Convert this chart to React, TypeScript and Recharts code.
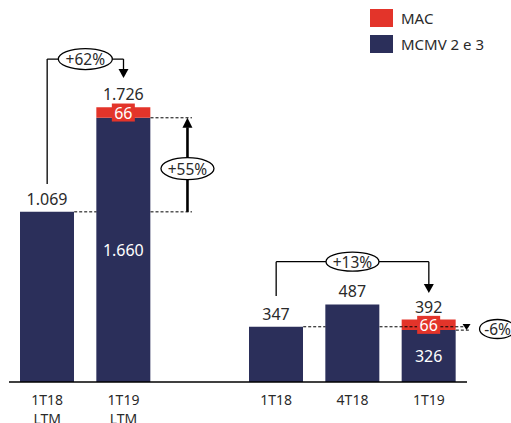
import { Bar, BarChart, LabelList, ReferenceDot, ReferenceLine, XAxis, YAxis } from 'recharts';

// Unidades vendidas por período (MCMV 2 e 3 + MAC)
const periods = ['1T18\nLTM', '1T19\nLTM', '1T18', '4T18', '1T19'];
const slots = [0, 1, 3, 4, 5];
const mcmv = [1069, 1660, 347, 487, 326];
const mac = [0, 66, 0, 0, 66];

const NAVY = '#2b2f5a';
const RED = '#e3342a';
const FONT = '"Noto Sans", sans-serif';
const TEXT = '#2a2a2a';

const data = slots.map((slot, i) => ({
  slot,
  mcmv: mcmv[i],
  mac: mac[i],
}));

const fmt = (v: number) => String(v).replace(/\B(?=(\d{3})+(?!\d))/g, '.');

// total acima da pilha, posicionado a partir da barra MCMV
const TotalLabel = (props: any) => {
  const { x, y, width, height, index } = props;
  const unit = height / mcmv[index];
  const top = y - mac[index] * unit;
  return (
    <text x={x + width / 2} y={top - 13} textAnchor="middle" dominantBaseline="central" fontSize={16} fill={TEXT} fontFamily={FONT}>
      {fmt(mcmv[index] + mac[index])}
    </text>
  );
};

const InsideLabel = (props: any) => {
  const { x, y, width, height, value, index } = props;
  if (!mac[index]) return null;
  return (
    <text x={x + width / 2} y={y + height / 2} textAnchor="middle" dominantBaseline="central" fontSize={16} fill="#fff" fontFamily={FONT}>
      {fmt(value)}
    </text>
  );
};

const MacLabel = (props: any) => {
  const { x, y, width, height, value } = props;
  if (!value) return null;
  const cx = x + width / 2;
  const cy = y + height / 2;
  return (
    <g>
      <rect x={cx - 11.5} y={cy - 9} width={23} height={18} fill={RED} />
      <text x={cx} y={cy} textAnchor="middle" dominantBaseline="central" fontSize={16} fill="#fff" fontFamily={FONT}>
        {value}
      </text>
    </g>
  );
};

const PeriodTick = (props: any) => {
  const { x, y, payload } = props;
  const idx = slots.indexOf(payload.value);
  if (idx < 0) return null;
  const lines = periods[idx].split('\n');
  return (
    <text x={x} y={y} textAnchor="middle" fontSize={14} fill={TEXT} fontFamily={FONT}>
      {lines.map((l, i) => (
        <tspan key={i} x={x} dy={i === 0 ? 15 : 19}>{l}</tspan>
      ))}
    </text>
  );
};

const bubble = (text: string, w: number, h: number) => (props: any) => (
  <g>
    <ellipse cx={props.cx} cy={props.cy} rx={w / 2} ry={h / 2} fill="#fff" stroke="#000" strokeWidth={1.3} />
    <text x={props.cx} y={props.cy} textAnchor="middle" dominantBaseline="central" fontSize={15.5} fill={TEXT} fontFamily={FONT}>
      {text}
    </text>
  </g>
);

const arrowDown = (w: number, h: number) => (props: any) => (
  <path d={`M${props.cx - w / 2},${props.cy - h}L${props.cx + w / 2},${props.cy - h}L${props.cx},${props.cy}Z`} fill="#000" />
);

const arrowUp = (w: number, h: number) => (props: any) => (
  <path d={`M${props.cx - w / 2},${props.cy + h}L${props.cx + w / 2},${props.cy + h}L${props.cx},${props.cy}Z`} fill="#000" />
);

// metade da largura da barra, em unidades do eixo x
const HB = 0.354;

// conectores sólidos [x1, y1, x2, y2, espessura]
const solid: number[][] = [
  [0, 1244, 0, 2029, 1.3],
  [0, 2029, 1, 2029, 1.3],
  [1, 2029, 1, 1960, 1.3],
  [1.838, 1069, 1.838, 1600, 2.6],
  [3, 540, 3, 756, 1.3],
  [3, 756, 5, 756, 1.3],
  [5, 756, 5, 605, 1.3],
];

// linhas tracejadas de referência
const dashed: number[][] = [
  [HB, 1069, 1 - HB, 1069],
  [1 + HB, 1069, 1.897, 1069],
  [1 + HB, 1660, 1.897, 1660],
  [3 + HB, 347, 4 - HB, 347],
  [4 + HB, 347, 4.85, 347],
  [5.15, 347, 5.54, 347],
  [5 + HB, 326, 5.54, 326],
];

const Legend = () => (
  <div style={{ position: 'absolute', left: 370, top: 9, fontFamily: FONT, fontSize: 15, color: TEXT }}>
    {[
      { name: 'MAC', color: RED },
      { name: 'MCMV 2 e 3', color: NAVY },
    ].map((it) => (
      <div key={it.name} style={{ display: 'flex', alignItems: 'center', height: 18, marginBottom: 8 }}>
        <span style={{ width: 23, height: 18, background: it.color, display: 'inline-block', marginRight: 8 }} />
        <span>{it.name}</span>
      </div>
    ))}
  </div>
);

export default function App() {
  return (
    <div style={{ position: 'absolute', left: 0, top: 0, width: 511, height: 423, background: '#fff', overflow: 'hidden' }}>
      <BarChart width={511} height={423} data={data} margin={{ top: 0, right: 44, left: 9, bottom: 0 }}>
        <XAxis
          dataKey="slot"
          type="number"
          domain={[-0.5, 5.5]}
          ticks={slots}
          interval={0}
          tickLine={false}
          height={41}
          axisLine={{ stroke: '#000', strokeWidth: 1.5 }}
          tick={<PeriodTick />}
        />
        <YAxis hide domain={[0, 2400]} />
        <Bar dataKey="mcmv" stackId="a" fill={NAVY} barSize={54} isAnimationActive={false}>
          <LabelList dataKey="mcmv" content={<InsideLabel />} />
          <LabelList dataKey="mcmv" content={<TotalLabel />} />
        </Bar>
        <Bar dataKey="mac" stackId="a" fill={RED} barSize={54} isAnimationActive={false}>
          <LabelList dataKey="mac" content={<MacLabel />} />
        </Bar>
        {dashed.map(([x1, y1, x2, y2], i) => (
          <ReferenceLine
            key={`d${i}`}
            segment={[{ x: x1, y: y1 }, { x: x2, y: y2 }]}
            stroke="#000"
            strokeWidth={1}
            strokeDasharray="3 2"
            ifOverflow="visible"
          />
        ))}
        {solid.map(([x1, y1, x2, y2, w], i) => (
          <ReferenceLine
            key={`s${i}`}
            segment={[{ x: x1, y: y1 }, { x: x2, y: y2 }]}
            stroke="#000"
            strokeWidth={w}
            ifOverflow="visible"
          />
        ))}
        <ReferenceDot x={1} y={1910} ifOverflow="visible" shape={arrowDown(10, 9)} />
        <ReferenceDot x={1.838} y={1660} ifOverflow="visible" shape={arrowUp(10, 10)} />
        <ReferenceDot x={5} y={559} ifOverflow="visible" shape={arrowDown(10, 9)} />
        <ReferenceDot x={5.494} y={326} ifOverflow="visible" shape={arrowDown(8, 6)} />
        <ReferenceDot x={0.5} y={2029} ifOverflow="visible" shape={bubble('+62%', 54, 21)} />
        <ReferenceDot x={1.838} y={1341} ifOverflow="visible" shape={bubble('+55%', 53, 22)} />
        <ReferenceDot x={4} y={756} ifOverflow="visible" shape={bubble('+13%', 53, 19)} />
        <ReferenceDot x={5.9} y={333} ifOverflow="visible" shape={bubble('-6%', 36, 19)} />
      </BarChart>
      <Legend />
    </div>
  );
}
